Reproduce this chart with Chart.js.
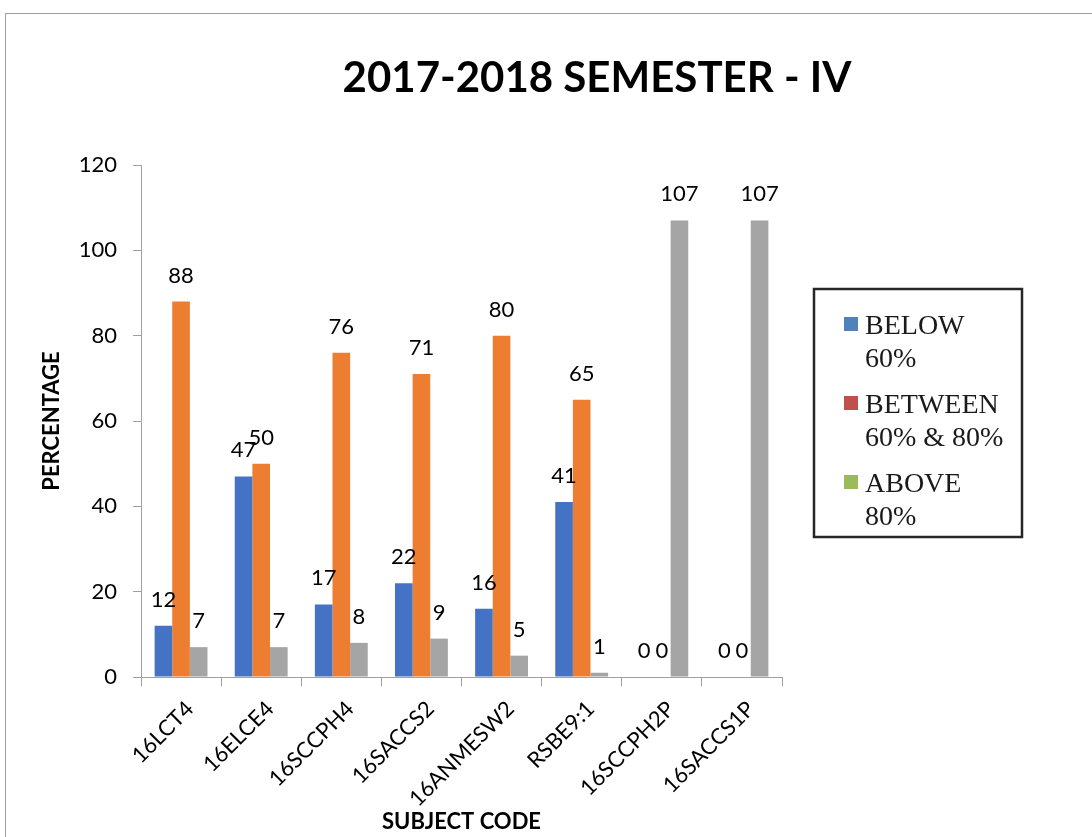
<!DOCTYPE html>
<html lang="en">
<head>
<meta charset="UTF-8" />
<title>2017-2018 SEMESTER - IV</title>
<script src="https://cdn.jsdelivr.net/npm/chart.js"></script>
<style>
  html, body { margin: 0; padding: 0; background: #fff; overflow: hidden; }
  #wrap { position: relative; width: 1092px; height: 837px; }
  #frame { position: absolute; left: 5px; top: 13px; width: 1200px; height: 1000px; border: 1px solid #a0a0a0; box-sizing: border-box; }
  canvas { position: absolute; left: 0; top: 0; }
</style>
</head>
<body>
<div id="wrap">
  <div id="frame"></div>
  <canvas id="semChart" width="1092" height="837"></canvas>
</div>
<script>
const chartTitle = '2017-2018 SEMESTER - IV';
const subjects = ['16LCT4', '16ELCE4', '16SCCPH4', '16SACCS2', '16ANMESW2', 'RSBE9:1', '16SCCPH2P', '16SACCS1P'];
const below60 = [12, 47, 17, 22, 16, 41, 0, 0];
const between60and80 = [88, 50, 76, 71, 80, 65, 0, 0];
const above80 = [7, 7, 8, 9, 5, 1, 107, 107];
const seriesNames = ['BELOW 60%', 'BETWEEN 60% & 80%', 'ABOVE 80%'];
const yTicks = [0, 20, 40, 60, 80, 100, 120];

const barColors = ['#4472C4', '#ED7D31', '#A5A5A5'];
// the legend box in the original uses the old office colours
const legendColors = ['#4F81BD', '#C0504D', '#9BBB59'];
const axisGray = '#a0a0a0';
const textColor = '#000';

// title centred over the whole frame, not the plot
const titlePlugin = {
    id: 'titlePlugin',
    afterDraw(chart) {
        const ctx = chart.ctx;
        ctx.save();
        ctx.font = 'bold 42px Lato';
        ctx.fillStyle = textColor;
        ctx.textAlign = 'center';
        ctx.textBaseline = 'middle';
        ctx.fillText(chartTitle, 597, 78);
        ctx.restore();
    }
};

// numbers above each bar
const valueLabels = {
    id: 'valueLabels',
    afterDatasetsDraw(chart) {
        const ctx = chart.ctx;
        ctx.save();
        ctx.font = '22px Lato';
        ctx.fillStyle = textColor;
        ctx.textAlign = 'center';
        ctx.textBaseline = 'alphabetic';
        chart.data.datasets.forEach((ds, i) => {
            chart.getDatasetMeta(i).data.forEach((bar, j) => {
                ctx.fillText(String(ds.data[j]), bar.x, bar.y - 19);
            });
        });
        ctx.restore();
    }
};

// boxed legend, two lines per entry
const boxLegend = {
    id: 'boxLegend',
    afterDraw(chart) {
        const ctx = chart.ctx;
        ctx.save();
        ctx.lineWidth = 2.5;
        ctx.strokeStyle = '#262626';
        ctx.strokeRect(814, 289, 208, 248);
        ctx.font = '28px "Liberation Serif"';
        ctx.textBaseline = 'alphabetic';
        chart.data.datasets.forEach((ds, i) => {
            const base = 334 + i * 79;
            ctx.fillStyle = legendColors[i];
            ctx.fillRect(844, base - 17, 14, 14);
            const words = ds.label.split(' ');
            ctx.fillStyle = '#1a1a1a';
            ctx.fillText(words[0], 865, base);
            ctx.fillText(words.slice(1).join(' '), 865, base + 33);
        });
        ctx.restore();
    }
};

const ctx = document.getElementById('semChart').getContext('2d');
const semChart = new Chart(ctx, {
    type: 'bar',
    data: {
        labels: subjects,
        datasets: [below60, between60and80, above80].map((values, i) => ({
            label: seriesNames[i],
            data: values,
            backgroundColor: barColors[i],
            borderWidth: 0,
            barPercentage: 1,
            categoryPercentage: 0.66
        }))
    },
    options: {
        responsive: false,
        animation: false,
        events: [],
        layout: { padding: { left: 10, right: 310, top: 165, bottom: 0 } },
        plugins: {
            legend: { display: false },
            title: { display: false },
            tooltip: { enabled: false }
        },
        scales: {
            x: {
                grid: { drawOnChartArea: false, color: axisGray, tickLength: 9, offset: true },
                border: { color: axisGray },
                ticks: {
                    font: { family: 'Lato', size: 22 },
                    color: textColor,
                    minRotation: 45,
                    maxRotation: 45,
                    autoSkip: false,
                    padding: 10,
                    labelOffset: 9
                },
                title: {
                    display: true,
                    text: 'SUBJECT CODE',
                    font: { family: 'Lato', size: 22, weight: 'bold' },
                    color: textColor,
                    padding: { top: 0, bottom: 2 }
                },
                afterFit(scale) { scale.height = 160; }
            },
            y: {
                min: yTicks[0],
                max: yTicks[yTicks.length - 1],
                grid: { drawOnChartArea: false, color: axisGray, tickLength: 8 },
                border: { color: axisGray },
                ticks: {
                    stepSize: yTicks[1] - yTicks[0],
                    font: { family: 'Lato', size: 22 },
                    color: textColor,
                    padding: 16
                },
                title: {
                    display: true,
                    text: 'PERCENTAGE',
                    font: { family: 'Lato', size: 22, weight: 'bold' },
                    color: textColor,
                    padding: { top: 29, bottom: 0 }
                },
                afterFit(scale) { scale.width = 131; }
            }
        }
    },
    plugins: [valueLabels, boxLegend, titlePlugin]
});
</script>
</body>
</html>
